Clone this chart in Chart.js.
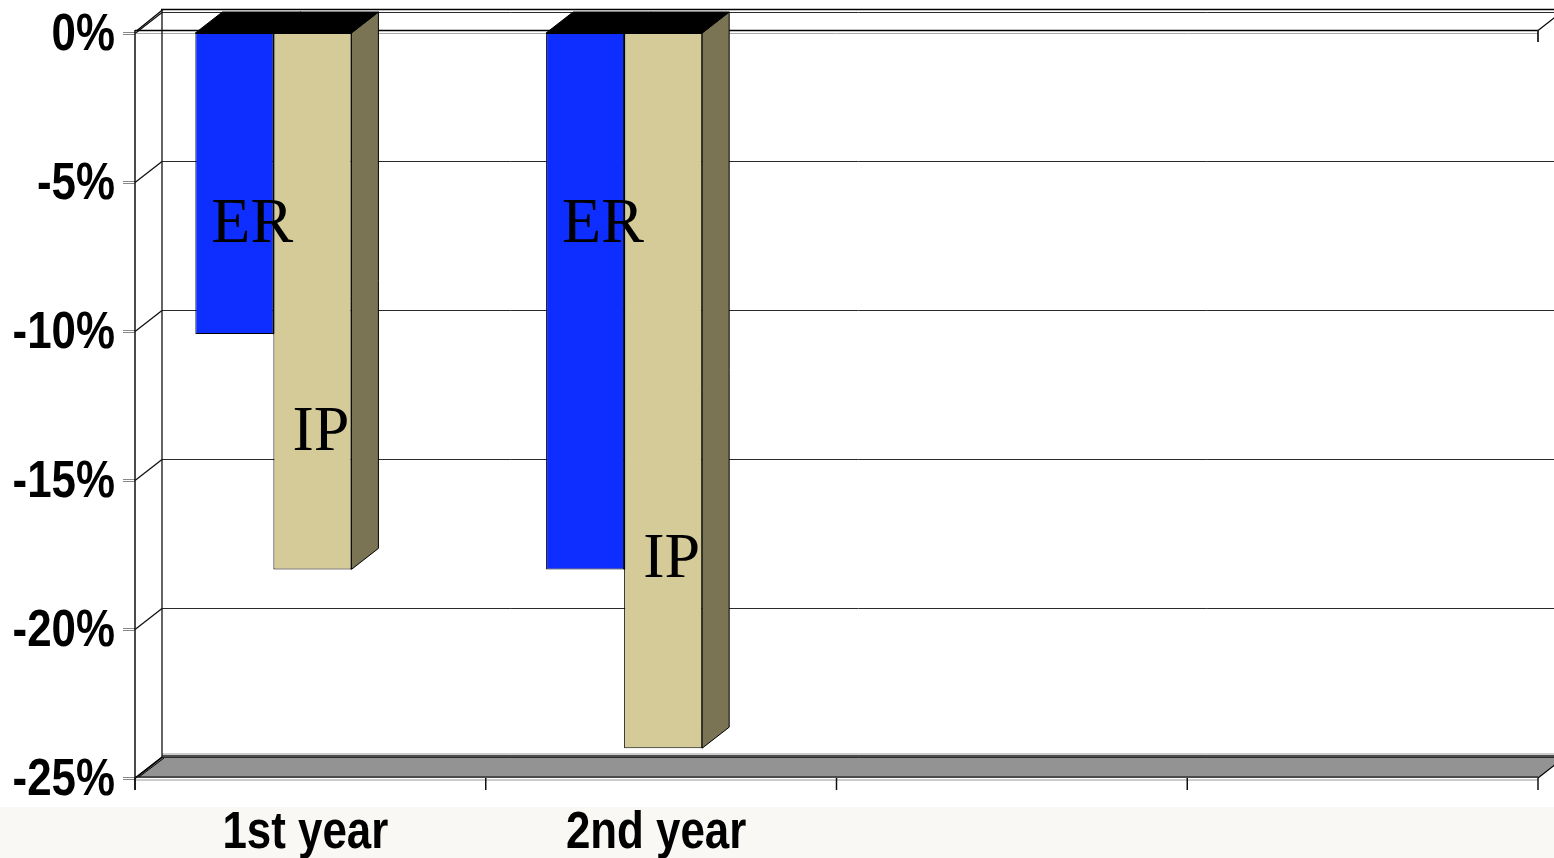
<!DOCTYPE html>
<html>
<head>
<meta charset="utf-8">
<script src="https://cdn.jsdelivr.net/npm/chart.js@4.4.1/dist/chart.umd.min.js"></script>
<style>
  html, body { margin: 0; padding: 0; background: #fff; }
  canvas { display: block; }
</style>
</head>
<body>
<canvas id="c" width="1554" height="858"></canvas>
<script>
// ---- data ----
const categories = ['1st year', '2nd year', '', ''];
const erValues = [-10.1, -18.0, null, null];
const ipValues = [-18.0, -24.0, null, null];
const yTickValues = [0, -5, -10, -15, -20, -25];
const seriesNames = ['ER', 'IP'];

// ---- look ----
const DEPTH_X = 27, DEPTH_Y = -21;     // oblique depth of walls and bars
const BAR_SHIFT = -37;                 // bars sit left of the category centre
const captionBaseline = [[-7.0, -7.0], [-14.0, -18.25]]; // caption baseline per series, axis units
const captionInset = [16, 19];
const COLORS = {
  er: '#0d2eff', erSide: '#081f9a',
  ip: '#d5cb99', ipSide: '#7a7455',
  top: '#000000', floor: '#939393', band: '#f9f8f5'
};
const LABEL_FONT = 'bold 51px "Liberation Sans", Arial, sans-serif';
const LABEL_SQUEEZE = 0.86;            // axis labels are set slightly condensed

function seg(ctx, x1, y1, x2, y2, color, w) {
  ctx.strokeStyle = color || '#000';
  ctx.lineWidth = w || 1;
  ctx.beginPath();
  ctx.moveTo(x1, y1);
  ctx.lineTo(x2, y2);
  ctx.stroke();
}

function squeezedText(ctx, text, x, y, align) {
  ctx.save();
  ctx.translate(x, y);
  ctx.scale(LABEL_SQUEEZE, 1);
  ctx.textAlign = align;
  ctx.textBaseline = 'alphabetic';
  ctx.fillText(text, 0, 0);
  ctx.restore();
}

function barFaces(ctx, p, sideColor) {
  const l = p.x - p.width / 2, r = p.x + p.width / 2;
  const t = Math.min(p.y, p.base), b = Math.max(p.y, p.base);
  ctx.lineWidth = 1;
  ctx.strokeStyle = '#000';
  ctx.fillStyle = sideColor;
  ctx.beginPath();
  ctx.moveTo(r, t);
  ctx.lineTo(r + DEPTH_X, t + DEPTH_Y);
  ctx.lineTo(r + DEPTH_X, b + DEPTH_Y);
  ctx.lineTo(r, b);
  ctx.closePath();
  ctx.fill();
  ctx.stroke();
  ctx.fillStyle = COLORS.top;
  ctx.beginPath();
  ctx.moveTo(l, t);
  ctx.lineTo(l + DEPTH_X, t + DEPTH_Y);
  ctx.lineTo(r + DEPTH_X, t + DEPTH_Y);
  ctx.lineTo(r, t);
  ctx.closePath();
  ctx.fill();
  ctx.stroke();
}

const depthPlugin = {
  id: 'depth',
  beforeDraw(chart) {
    const ctx = chart.ctx;
    const { left, right, top, bottom } = chart.chartArea;
    const ys = chart.scales.y;
    const W = chart.width, H = chart.height;
    ctx.save();
    ctx.fillStyle = '#fff';
    ctx.fillRect(0, 0, W, H);
    ctx.fillStyle = COLORS.band;
    ctx.fillRect(0, bottom + 29, W, H - bottom - 29);

    const bx = left + DEPTH_X;
    // floor slab
    ctx.fillStyle = COLORS.floor;
    ctx.beginPath();
    ctx.moveTo(left, bottom);
    ctx.lineTo(bx, bottom + DEPTH_Y);
    ctx.lineTo(right + DEPTH_X, bottom + DEPTH_Y);
    ctx.lineTo(right, bottom);
    ctx.closePath();
    ctx.fill();

    // back wall grid, side wall diagonals, y tick marks
    yTickValues.forEach(v => {
      const py = Math.round(ys.getPixelForValue(v)) + 0.5;
      seg(ctx, bx, py + DEPTH_Y, right + DEPTH_X, py + DEPTH_Y, '#2a2a2a', 1);
      seg(ctx, left, py, bx, py + DEPTH_Y, '#111', 1.3);
      seg(ctx, left - 12, py - 1, left, py - 1, '#888', 1);
      seg(ctx, left - 12, py + 1, left, py + 1, '#888', 1);
    });
    // top slab outline (double)
    seg(ctx, bx - 1, top + DEPTH_Y - 2.5, right + DEPTH_X, top + DEPTH_Y - 2.5, '#000', 1.3);
    seg(ctx, left + 2, top - 2.5, bx + 1, top + DEPTH_Y - 2.5, '#000', 1.2);
    seg(ctx, left, top - 2.5, right, top - 2.5, '#000', 1.3);
    seg(ctx, left, top + 0.5, right, top + 0.5, '#aaa', 1);
    seg(ctx, right, top - 3, right, top + 9, '#333', 2);
    seg(ctx, right, top - 2.5, right + DEPTH_X, top + DEPTH_Y - 2.5, '#000', 1.2);
    // floor edges
    seg(ctx, bx, bottom + DEPTH_Y - 3, right + DEPTH_X, bottom + DEPTH_Y - 3, '#999', 1);
    seg(ctx, bx, bottom + DEPTH_Y - 1, right + DEPTH_X, bottom + DEPTH_Y - 1, '#111', 1.3);
    seg(ctx, left, bottom - 1, right, bottom - 1, '#333', 1.5);
    seg(ctx, left, bottom + 2, right, bottom + 2, '#999', 1);
    seg(ctx, left, bottom, bx, bottom + DEPTH_Y, '#000', 1.2);
    seg(ctx, left + 4, bottom - 1, bx + 2, bottom + DEPTH_Y + 1, '#000', 1);
    seg(ctx, right, bottom, right + DEPTH_X, bottom + DEPTH_Y, '#000', 1.2);
    // verticals
    seg(ctx, left, top - 3, left, bottom + 12, '#111', 1.5);
    seg(ctx, bx, top + DEPTH_Y - 3, bx, bottom + DEPTH_Y, '#111', 1.3);
    // category tick marks
    const n = categories.length;
    const cw = (right - left) / n;
    for (let i = 0; i <= n; i++) {
      const px = left + i * cw;
      seg(ctx, px, bottom, px, bottom + 12, '#111', 1.5);
    }

    // axis labels
    ctx.fillStyle = '#000';
    ctx.font = LABEL_FONT;
    yTickValues.forEach(v => {
      squeezedText(ctx, v + '%', left - 20, ys.getPixelForValue(v) + 17, 'right');
    });
    const xs = chart.scales.x;
    categories.forEach((c, i) => {
      if (!c) return;
      squeezedText(ctx, c, xs.getPixelForValue(i) - 5, bottom + 70, 'center');
    });
    ctx.restore();
  },
  beforeDatasetsDraw(chart) {
    const ctx = chart.ctx;
    ctx.save();
    ctx.translate(BAR_SHIFT, 0);
    // side and top faces first, left series to right, so front faces cover hidden parts
    chart.data.datasets.forEach((ds, di) => {
      const meta = chart.getDatasetMeta(di);
      const sideColor = di === 0 ? COLORS.erSide : COLORS.ipSide;
      ds.data.forEach((v, i) => {
        if (v === null || v === undefined) return;
        ctx.save();
        barFaces(ctx, meta.data[i].getProps(['x', 'y', 'base', 'width'], true), sideColor);
        ctx.restore();
      });
    });
  },
  afterDatasetsDraw(chart) {
    const ctx = chart.ctx;
    const ys = chart.scales.y;
    ctx.save();
    ctx.font = '64px "Liberation Serif", "Times New Roman", serif';
    ctx.fillStyle = '#000';
    ctx.textAlign = 'left';
    ctx.textBaseline = 'alphabetic';
    chart.data.datasets.forEach((ds, di) => {
      const meta = chart.getDatasetMeta(di);
      ds.data.forEach((v, i) => {
        const at = captionBaseline[di][i];
        if (v === null || at === undefined) return;
        const p = meta.data[i].getProps(['x', 'width'], true);
        ctx.fillText(seriesNames[di], p.x - p.width / 2 + captionInset[di], ys.getPixelForValue(at));
      });
    });
    ctx.restore();
    ctx.restore();
  }
};

new Chart(document.getElementById('c'), {
  type: 'bar',
  data: {
    labels: categories,
    datasets: [
      { label: seriesNames[0], data: erValues, backgroundColor: COLORS.er,
        borderColor: '#000', borderWidth: 1, borderSkipped: false,
        barPercentage: 1.0, categoryPercentage: 0.445, clip: false },
      { label: seriesNames[1], data: ipValues, backgroundColor: COLORS.ip,
        borderColor: '#000', borderWidth: 1, borderSkipped: false,
        barPercentage: 1.0, categoryPercentage: 0.445, clip: false }
    ]
  },
  options: {
    responsive: false,
    animation: false,
    devicePixelRatio: 1,
    layout: { padding: { top: 33, right: 16, left: 0, bottom: 0 } },
    plugins: { legend: { display: false }, tooltip: { enabled: false } },
    scales: {
      y: {
        min: -25, max: 0,
        afterFit(s) { s.width = 135; },
        ticks: { display: false, stepSize: 5 },
        grid: { display: false, drawTicks: false },
        border: { display: false }
      },
      x: {
        afterFit(s) { s.height = 80; },
        ticks: { display: false },
        grid: { display: false, drawTicks: false },
        border: { display: false }
      }
    }
  },
  plugins: [depthPlugin]
});
</script>
</body>
</html>
